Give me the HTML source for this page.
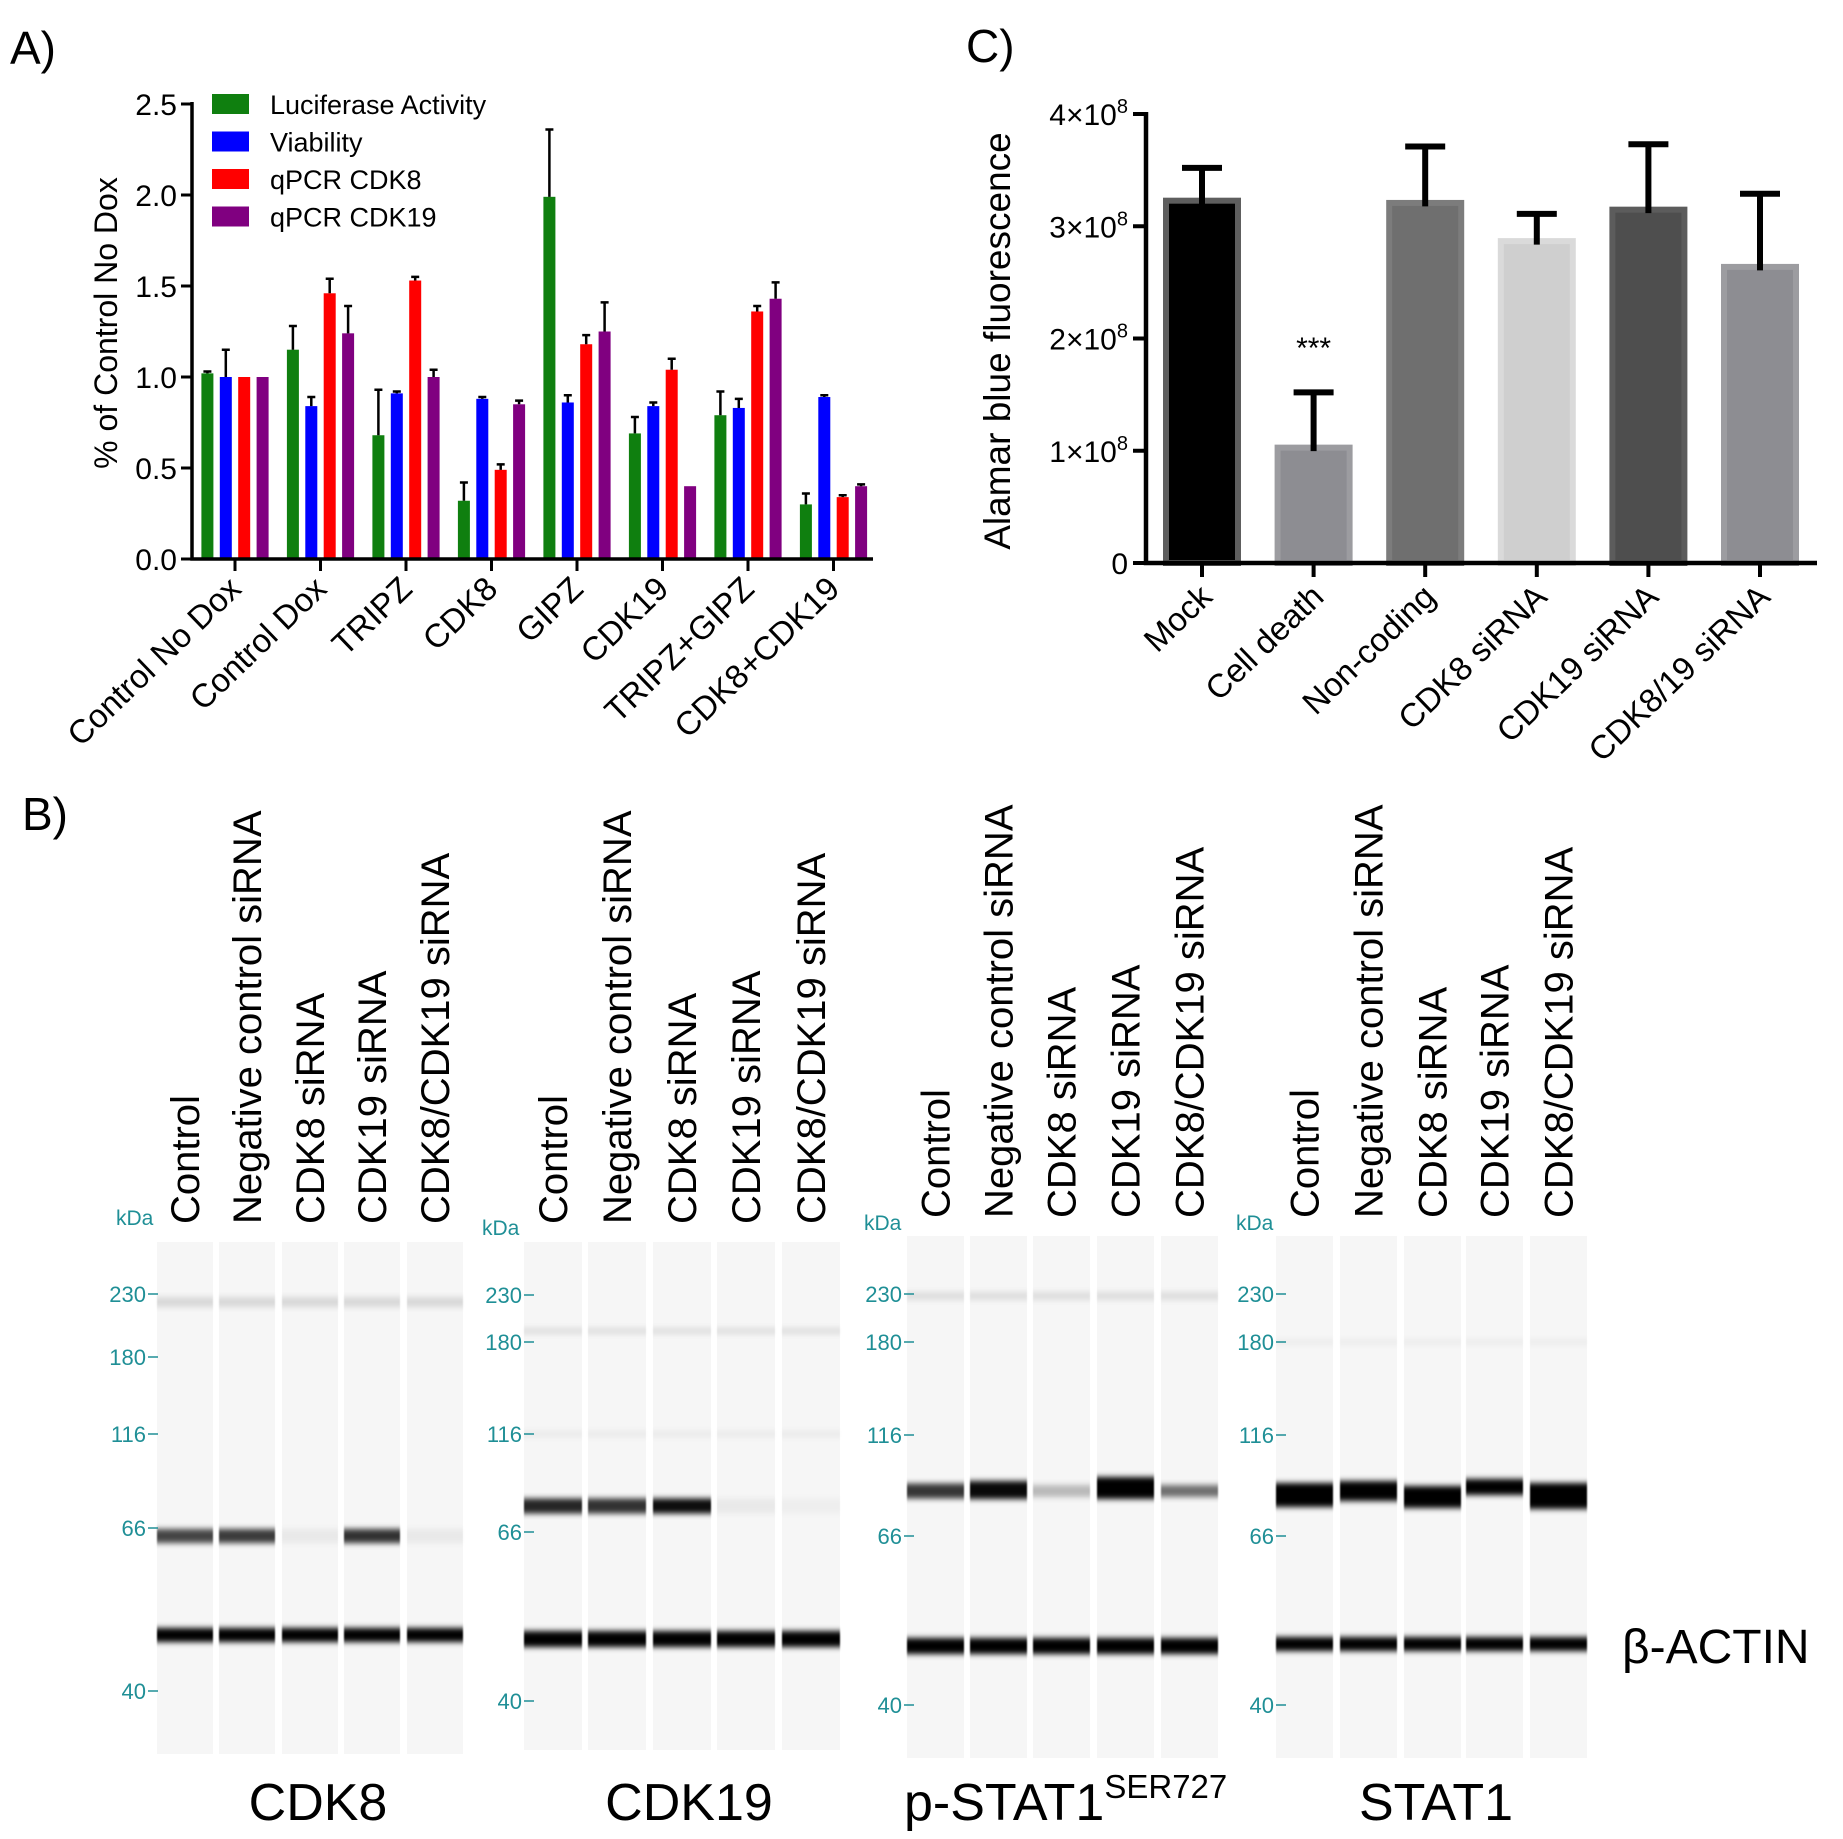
<!DOCTYPE html>
<html><head><meta charset="utf-8"><style>
html,body{margin:0;padding:0;background:#fff;}
svg{display:block;font-family:"Liberation Sans",Arial,sans-serif;}
</style></head><body>
<svg id="fig" width="1843" height="1839" viewBox="0 0 1843 1839" xmlns="http://www.w3.org/2000/svg">
<defs>
<filter id="blur" x="-10%" y="-200%" width="120%" height="500%"><feGaussianBlur stdDeviation="0.8 3"/></filter>
</defs>
<text x="10" y="64" font-size="46">A)</text>
<text x="966" y="62" font-size="46">C)</text>
<text x="22" y="830" font-size="46">B)</text>
<g id="chartA"></g>
<g id="chartC"></g>
<g id="blots"></g>
</svg>
<script>
// ---- Panel A data ----
const catsA = ["Control No Dox","Control Dox","TRIPZ","CDK8","GIPZ","CDK19","TRIPZ+GIPZ","CDK8+CDK19"];
const seriesNamesA = ["Luciferase Activity","Viability","qPCR CDK8","qPCR CDK19"];
const lucVals = [1.02,1.15,0.68,0.32,1.99,0.69,0.79,0.30];
const lucErr  = [0.01,0.13,0.25,0.10,0.37,0.09,0.13,0.06];
const viaVals = [1.00,0.84,0.91,0.88,0.86,0.84,0.83,0.89];
const viaErr  = [0.15,0.05,0.01,0.01,0.04,0.02,0.05,0.01];
const cdk8Vals = [1.00,1.46,1.53,0.49,1.18,1.04,1.36,0.34];
const cdk8Err  = [0.00,0.08,0.02,0.03,0.05,0.06,0.03,0.01];
const cdk19Vals = [1.00,1.24,1.00,0.85,1.25,0.40,1.43,0.40];
const cdk19Err  = [0.00,0.15,0.04,0.02,0.16,0.00,0.09,0.01];
const ticksA = [0.0,0.5,1.0,1.5,2.0,2.5];
// ---- Panel C data ----
const catsC = ["Mock","Cell death","Non-coding","CDK8 siRNA","CDK19 siRNA","CDK8/19 siRNA"];
const valsC = [3.25,1.05,3.23,2.89,3.17,2.66];
const errC  = [0.27,0.47,0.48,0.22,0.56,0.63];
const ticksC = [0,1,2,3,4];

const NS="http://www.w3.org/2000/svg";
function mk(parent,tag,attrs,txt){const e=document.createElementNS(NS,tag);for(const k in attrs)e.setAttribute(k,attrs[k]);if(txt!==undefined)e.textContent=txt;parent.appendChild(e);return e;}

// ---- Panel A ----
(function(){
const g=document.getElementById('chartA');
const y0=559, yTop=104, vMax=2.5;
const yA=v=>y0-(v/vMax)*(y0-yTop);
const xA=i=>235+i*85.5;
const colors=["#0f7f0f","#0000ff","#ff0000","#800080"];
const vals=[lucVals,viaVals,cdk8Vals,cdk19Vals];
const errs=[lucErr,viaErr,cdk8Err,cdk19Err];
catsA.forEach((c,i)=>{
  for(let s=0;s<4;s++){
    const cx=xA(i)+(s-1.5)*18.4;
    const v=vals[s][i], e=errs[s][i];
    const r=mk(g,'rect',{x:cx-6,y:yA(v),width:12,height:y0-yA(v),fill:colors[s]});
    
    
    if(e>0.005){
      const eb=mk(g,'path',{d:`M${cx} ${yA(v)} V${yA(v+e)} M${cx-4} ${yA(v+e)} H${cx+4}`,stroke:'#000','stroke-width':2.5,fill:'none'});
      
      
    }
  }
  mk(g,'line',{x1:xA(i),x2:xA(i),y1:y0,y2:y0+12,stroke:'#000','stroke-width':3});
  const lb=mk(g,'text',{x:0,y:0,'font-size':33,'text-anchor':'end',transform:`translate(${xA(i)+8},${y0+32}) rotate(-44)`},c);
  
  
});
mk(g,'path',{d:`M192 ${yTop-2} V${y0} H873`,stroke:'#000','stroke-width':3.5,fill:'none'});
ticksA.forEach(v=>{
  mk(g,'line',{x1:181,x2:192,y1:yA(v),y2:yA(v),stroke:'#000','stroke-width':3});
  const t=mk(g,'text',{x:177,y:yA(v)+11,'font-size':30,'text-anchor':'end'},v.toFixed(1));
  
  
});
const yl=mk(g,'text',{x:0,y:0,'font-size':32,'text-anchor':'middle',transform:'translate(117,323) rotate(-90)'},'% of Control No Dox');


seriesNamesA.forEach((n,s)=>{
  const cy=104+s*37.5;
  const sw=mk(g,'rect',{x:212,y:cy-10,width:37,height:20,fill:colors[s]});
  
  
  const lt=mk(g,'text',{x:270,y:cy+10,'font-size':27},n);
  
  
});
})();

// ---- Panel C ----
(function(){
const g=document.getElementById('chartC');
const y0=563, yTop=114, vMax=4;
const yC=v=>y0-(v/vMax)*(y0-yTop);
const xC=i=>1202+i*111.6;
const fills=["#000000","#8d8d92","#6f6f6f","#cfcfcf","#4e4e4e","#8d8d92"];
const strokes=["#5e5e5e","#9c9ca0","#7c7c7c","#dadada","#5c5c5c","#9c9ca0"];
catsC.forEach((c,i)=>{
  const cx=xC(i), v=valsC[i], e=errC[i];
  const b=mk(g,'rect',{x:cx-36,y:yC(v)+2.5,width:72,height:y0-yC(v)-2.5,fill:fills[i],stroke:strokes[i],'stroke-width':6});
  
  
  const eb=mk(g,'path',{d:`M${cx} ${yC(v)+6} V${yC(v+e)} M${cx-20} ${yC(v+e)} H${cx+20}`,stroke:'#000','stroke-width':6,fill:'none'});
  
  
  mk(g,'line',{x1:cx,x2:cx,y1:y0,y2:y0+14,stroke:'#000','stroke-width':4});
  const lb=mk(g,'text',{x:0,y:0,'font-size':33,'text-anchor':'end',transform:`translate(${cx+12},${y0+36}) rotate(-44)`},c);
  
  
});
mk(g,'path',{d:`M1146 ${yTop-2} V${y0} H1817`,stroke:'#000','stroke-width':4.5,fill:'none'});
ticksC.forEach(v=>{
  mk(g,'line',{x1:1133,x2:1146,y1:yC(v),y2:yC(v),stroke:'#000','stroke-width':4});
  const t=mk(g,'text',{x:1128,y:yC(v)+11,'font-size':30,'text-anchor':'end'});
  
  
  if(v===0){t.textContent='0';}
  else{
    mk(t,'tspan',{},v+'×10');
    mk(t,'tspan',{dy:-12,'font-size':20},'8');
  }
});
const yl=mk(g,'text',{x:0,y:0,'font-size':37,'text-anchor':'middle',transform:'translate(1010,341) rotate(-90)'},'Alamar blue fluorescence');


const st=mk(g,'text',{x:xC(1),y:358,'font-size':30,'text-anchor':'middle'},'***');


})();

// ---- Panel B blots ----
const laneLabels=["Control","Negative control siRNA","CDK8 siRNA","CDK19 siRNA","CDK8/CDK19 siRNA"];
const markerNames=["230","180","116","66","40"];
const cdk8Band=[0.72,0.76,0.05,0.8,0.05];
const cdk19Band=[0.85,0.8,0.95,0.05,0.03];
const pstatBand=[0.78,0.97,0.25,1,0.55];
const stat1Band=[1,1,1,1,1];
(function(){
const g=document.getElementById('blots');
const panels=[
 {name:'CDK8',lanes:[157,219,282,344,407],lw:56,top:1242,bot:1754,markers:[1294,1357,1434,1528,1691],mx:158,kx:116,ky:1225,band:cdk8Band,by:[1536,1536,1536,1536,1536],bh:[14,14,14,14,14],ay:1635,ah:14,faint:[[1302,0.12,10]],title:'CDK8',tx:318},
 {name:'CDK19',lanes:[524,588,653,717,782],lw:58,top:1242,bot:1750,markers:[1295,1342,1434,1532,1701],mx:534,kx:482,ky:1235,band:cdk19Band,by:[1506,1506,1506,1506,1506],bh:[15,15,15,15,15],ay:1639,ah:16,faint:[[1331,0.1,6],[1434,0.05,6]],title:'CDK19',tx:689},
 {name:'pSTAT1',lanes:[907,970,1033,1097,1161],lw:57,top:1236,bot:1758,markers:[1294,1342,1435,1536,1705],mx:914,kx:864,ky:1230,band:pstatBand,by:[1491,1490,1491,1488,1491],bh:[15,18,12,22,12],ay:1646,ah:16,faint:[[1296,0.1,8]],title:'p-STAT1',tx:null},
 {name:'STAT1',lanes:[1276,1340,1404,1466,1530],lw:57,top:1236,bot:1758,markers:[1294,1342,1435,1536,1705],mx:1286,kx:1236,ky:1230,band:stat1Band,by:[1495,1491,1497,1487,1496],bh:[24,20,22,16,26],ay:1644,ah:14,faint:[[1342,0.04,6]],title:'STAT1',tx:1436}
];
panels.forEach(p=>{
  const pg=mk(g,'g',{});
  
  
  p.lanes.forEach((lx,i)=>{
    mk(pg,'rect',{x:lx,y:p.top,width:p.lw,height:p.bot-p.top,fill:'#f6f6f6'});
    p.faint.forEach(f=>mk(pg,'rect',{x:lx,y:f[0]-f[2]/2,width:p.lw,height:f[2],fill:'#000','fill-opacity':f[1],filter:'url(#blur)'}));
    const b=mk(pg,'rect',{x:lx,y:p.by[i]-p.bh[i]/2,width:p.lw,height:p.bh[i],fill:'#000','fill-opacity':p.band[i],filter:'url(#blur)'});
    
    
    const a=mk(pg,'rect',{x:lx,y:p.ay-p.ah/2,width:p.lw,height:p.ah,fill:'#000',filter:'url(#blur)'});
    
    
    const cx=lx+p.lw/2;
    const lt=mk(pg,'text',{x:0,y:0,'font-size':40,transform:`translate(${cx+14},${p.top-18}) rotate(-90)`},laneLabels[i]);
    
    
  });
  p.markers.forEach((my,k)=>{
    const mt=mk(pg,'text',{x:p.mx-12,y:my+8,'font-size':22,fill:'#1f8f96','text-anchor':'end'},markerNames[k]);
    
    
    mk(pg,'line',{x1:p.mx-10,x2:p.mx,y1:my,y2:my,stroke:'#1f8f96','stroke-width':1.5});
  });
  const kd=mk(pg,'text',{x:p.kx,y:p.ky,'font-size':21,fill:'#1f8f96'},'kDa');
  
  
  let tt;
  if(p.tx!==null){tt=mk(pg,'text',{x:p.tx,y:1820,'font-size':52,'text-anchor':'middle'},p.title);}
  else{tt=mk(pg,'text',{x:904,y:1820,'font-size':52},'p-STAT1');mk(tt,'tspan',{dy:-22,'font-size':33},'SER727');}
  
  
});
const ba=mk(g,'text',{x:1622,y:1663,'font-size':48},'β-ACTIN');


})();
</script>
</body></html>
